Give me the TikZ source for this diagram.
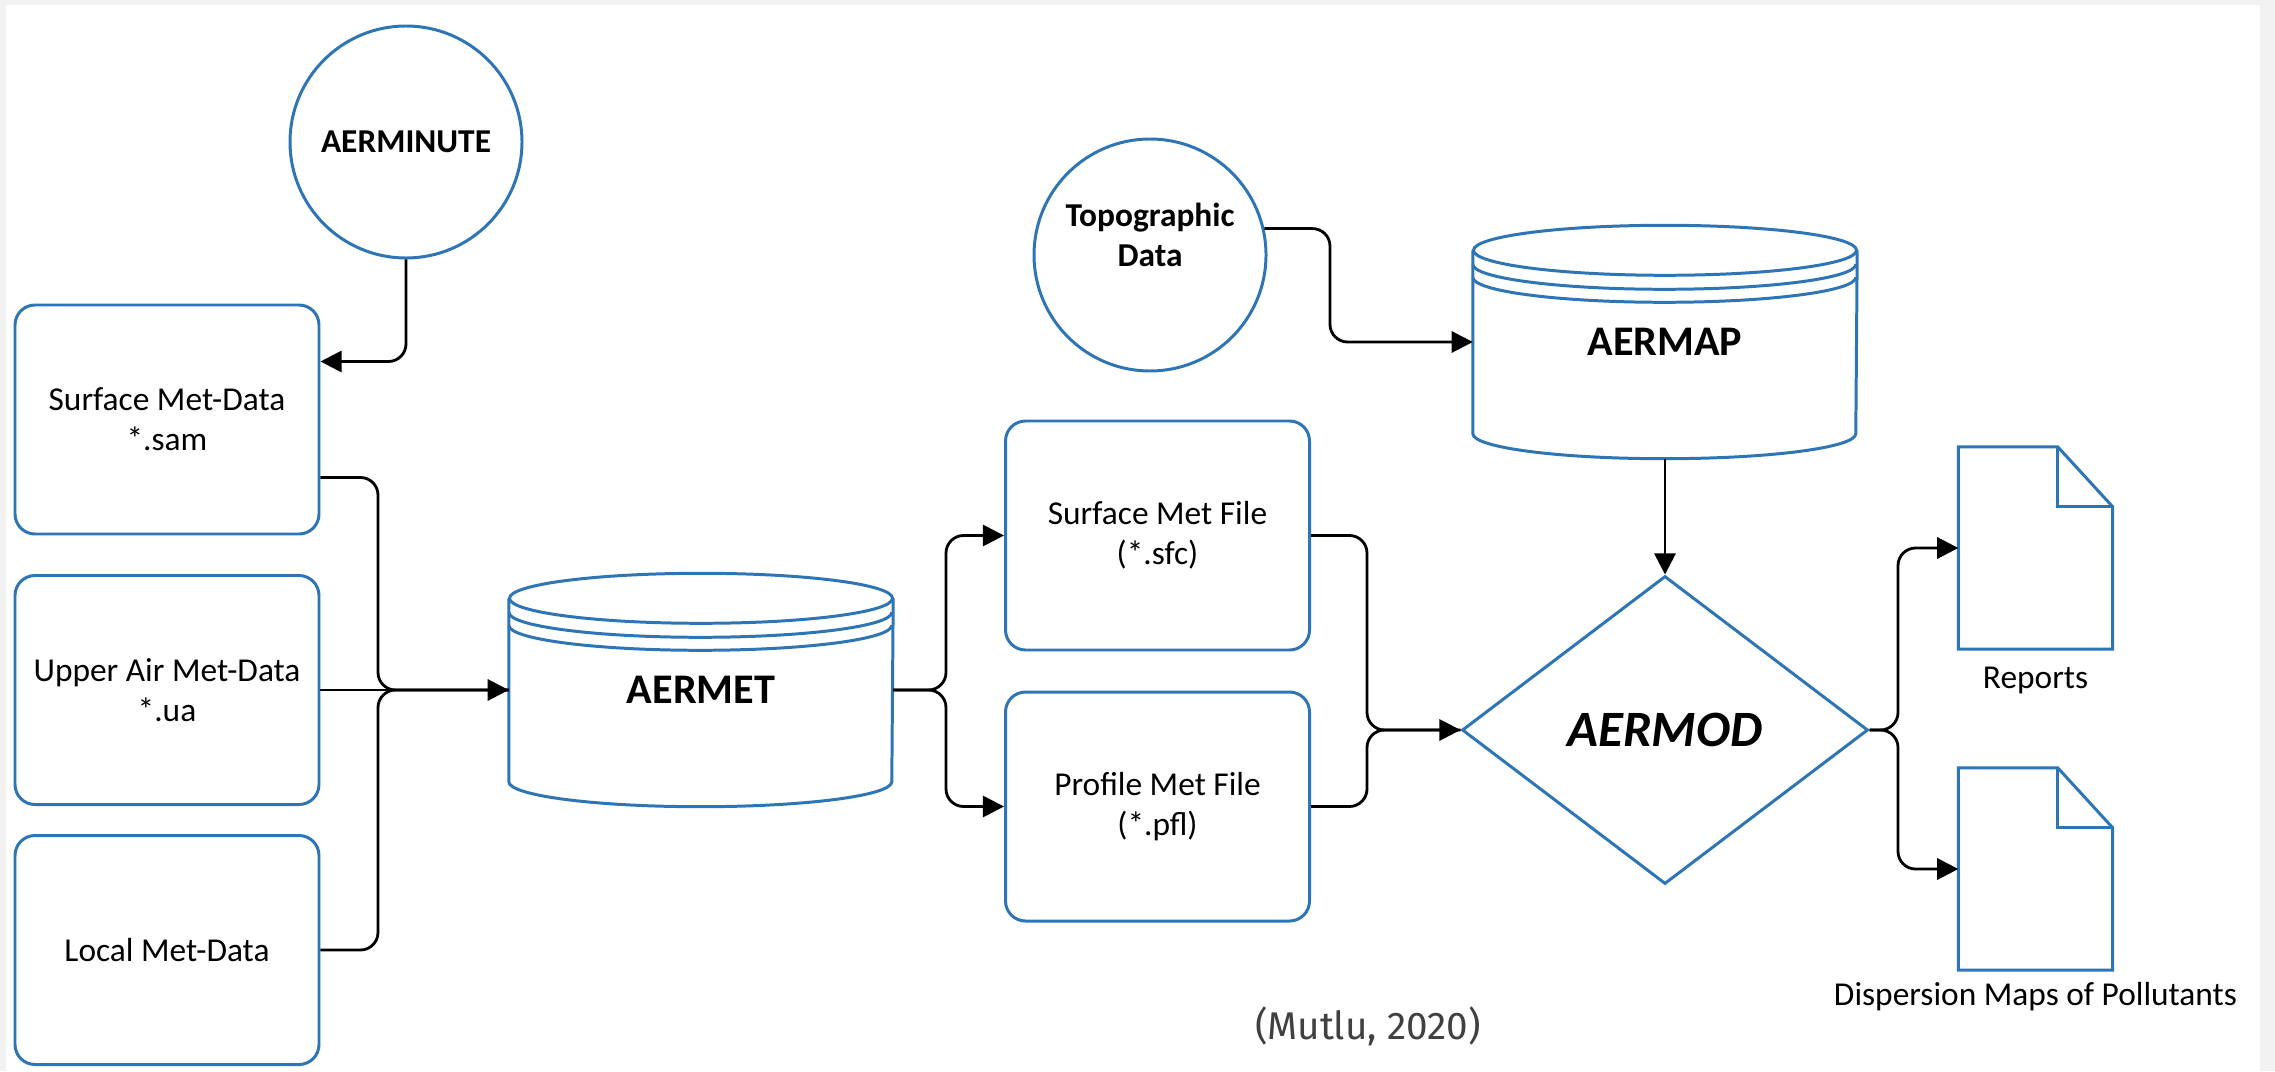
\documentclass[tikz,border=0pt]{standalone}
\usepackage{fontspec}
\setmainfont{Carlito}
\newfontfamily\citefont{Fira Sans}
\usepackage{xcolor}
\usepackage{tikz}
\usetikzlibrary{positioning,calc,arrows.meta,shapes.geometric}

\definecolor{flowblue}{RGB}{46,117,182}
\definecolor{pagegray}{RGB}{242,242,242}

% database drum around a node: #1 node, #2 half width
\newcommand{\dbdrum}[2]{%
  \draw[blueline] ($(#1.north west)+(0,-0.25)$) -- ($(#1.south west)+(0,0.25)$)
    arc[start angle=180, end angle=360, x radius=#2, y radius=0.25]
    -- ($(#1.north east)+(0,-0.25)$);
  \draw[blueline] ($(#1.north)+(0,-0.25)$) ellipse[x radius=#2, y radius=0.25];
  \draw[blueline] ($(#1.north west)+(0,-0.39)$) arc[start angle=180, end angle=360, x radius=#2, y radius=0.25];
  \draw[blueline] ($(#1.north west)+(0,-0.52)$) arc[start angle=180, end angle=360, x radius=#2, y radius=0.25];
}
% page with folded corner around a node
\newcommand{\docpage}[1]{%
  \draw[blueline] (#1.north west) -- ($(#1.north east)+(-0.55,0)$) -- ($(#1.north east)+(0,-0.60)$)
    -- (#1.south east) -- (#1.south west) -- cycle;
  \draw[blueline] ($(#1.north east)+(-0.55,0)$) -- ($(#1.north east)+(-0.55,-0.60)$) -- ($(#1.north east)+(0,-0.60)$);
}

\tikzset{
  blueline/.style={draw=flowblue, line width=0.85pt},
  txt/.style={font=\fontsize{9.5}{11.4}\selectfont},
  databox/.style={blueline, txt, rounded corners=0.2cm, minimum width=3.04cm, minimum height=2.29cm, align=center},
  procircle/.style={blueline, circle, minimum size=2.32cm, inner sep=0pt, align=center, font=\bfseries\fontsize{9.5}{11.4}\selectfont},
  drum/.style={minimum width=3.83cm, minimum height=2.32cm, inner sep=0pt, font=\bfseries\fontsize{12}{14}\selectfont},
  page/.style={minimum width=1.53cm, minimum height=2.01cm, inner sep=0pt},
  conn/.style={line width=0.8pt, rounded corners=5pt},
  flow/.style={conn, -{Triangle[length=6pt,width=6pt]}},
}

\begin{document}
\begin{tikzpicture}
  % Page
  \fill[pagegray] (0,0) rectangle (22.75,-10.71);
  \fill[white] (0.06,-0.05) rectangle (22.60,-10.71);
  \useasboundingbox (0,0) rectangle (22.75,-10.71);

  % Inputs
  \node[procircle] (aerminute) at (4.06,-1.42) {AERMINUTE};
  \node[procircle] (topo) at (11.50,-2.55) {Topographic\\Data\\[-0.11cm]\strut};
  \node[databox] (surfdata) at (1.67,-4.195) {Surface Met-Data\\*.sam};
  \node[databox] (upperdata) at (1.67,-6.90) {Upper Air Met-Data\\*.ua};
  \node[databox] (localdata) at (1.67,-9.50) {Local Met-Data};

  % Processors
  \node[drum] (aermet) at (7.01,-6.90) {AERMET};
  \dbdrum{aermet}{1.915}
  \node[drum] (aermap) at (16.65,-3.42) {AERMAP};
  \dbdrum{aermap}{1.915}

  % Met files
  \node[databox] (sfcfile) at (11.575,-5.355) {Surface Met File\\(*.sfc)};
  \node[databox] (pflfile) at (11.575,-8.065) {Profile Met File\\(*.pfl)};

  % Model
  \node[diamond, blueline, minimum width=4.06cm, minimum height=3.08cm, inner sep=0pt,
        font=\bfseries\itshape\fontsize{14.5}{16}\selectfont] (aermod) at (16.65,-7.30) {AERMOD};

  % Outputs
  \node[page] (reports) at (20.355,-5.48) {};
  \docpage{reports}
  \node[txt, below=0.05cm of reports] (replabel) {Reports};
  \node[page] (maps) at (20.355,-8.69) {};
  \docpage{maps}
  \node[txt, below=0pt of maps] (mapslabel) {Dispersion Maps of Pollutants};

  \node[font=\citefont\fontsize{11}{13}\selectfont, text=black!75] (cite) at (13.68,-10.26) {(Mutlu, 2020)};

  % Connectors
  \draw[flow] (aerminute.south) |- ($(surfdata.north east)!0.25!(surfdata.south east)$);

  \coordinate (metbus) at (3.78,-6.90);
  \draw[conn] ($(surfdata.north east)!0.75!(surfdata.south east)$) -| (metbus) -- (aermet.west);
  \draw[conn] (localdata.east) -| (metbus) -- (aermet.west);
  \draw[flow] (upperdata.east) -- (aermet.west);

  \coordinate (metsplit) at (9.46,-6.90);
  \draw[flow] (aermet.east) -- (metsplit) |- (sfcfile.west);
  \draw[flow] (aermet.east) -- (metsplit) |- (pflfile.west);

  \coordinate (filebus) at (13.67,-7.30);
  \draw[conn] (sfcfile.east) -| (filebus) -- (aermod.west);
  \draw[flow] (pflfile.east) -| (filebus) -- (aermod.west);

  \coordinate (topobend) at (13.30,-3.42);
  \draw[flow] (topo.13) -| (topobend) -- (aermap.west);
  \draw[flow] (aermap.south) -- (aermod.north);

  \coordinate (outsplit) at (18.98,-7.30);
  \draw[flow] (aermod.east) -- (outsplit) |- (reports.west);
  \draw[flow] (aermod.east) -- (outsplit) |- (maps.west);
\end{tikzpicture}
\end{document}
